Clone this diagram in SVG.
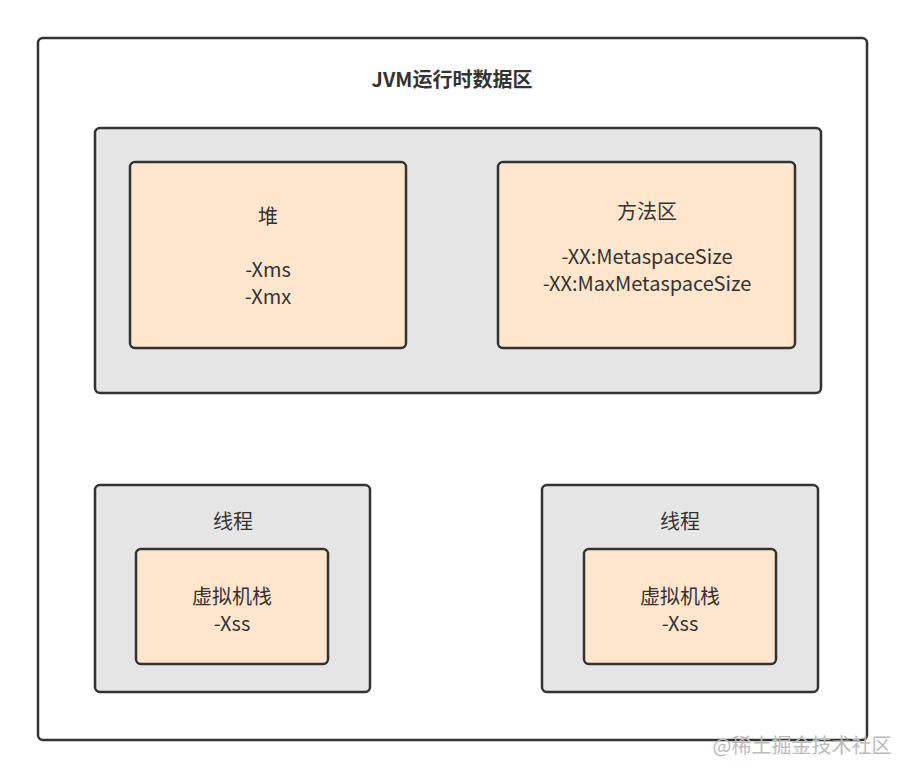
<svg xmlns="http://www.w3.org/2000/svg" width="904" height="778" viewBox="0 0 904 778">
<style>
.b{stroke:#333;stroke-width:2.5}
.g{fill:#e6e6e6}
.o{fill:#ffe6cc}
text{font-family:"Noto Sans CJK SC","Noto Sans",sans-serif;font-size:20px;fill:#333;text-anchor:middle}
</style>
<rect width="904" height="778" fill="#fff"/>
<g id="outer"><rect class="b" x="38" y="38" width="829" height="702" rx="5" fill="#fff"/>
<text x="452" y="87" font-weight="bold" font-size="19">JVM运行时数据区</text></g>
<g id="shared"><rect class="b g" x="95" y="128" width="726" height="265" rx="5"/></g>
<g id="heap"><rect class="b o" x="130" y="162" width="276" height="186" rx="5"/>
<text x="268" y="224">堆</text><text x="268" y="277">-Xms</text><text x="268" y="304">-Xmx</text></g>
<g id="method"><rect class="b o" x="498" y="162" width="297" height="186" rx="5"/>
<text x="647" y="219">方法区</text><text x="647" y="264">-XX:MetaspaceSize</text><text x="647" y="291">-XX:MaxMetaspaceSize</text></g>
<g id="thread1"><rect class="b g" x="95" y="485" width="275" height="207" rx="5"/>
<text x="233" y="529">线程</text></g>
<g id="stack1"><rect class="b o" x="136" y="549" width="192" height="115" rx="5"/>
<text x="232" y="604">虚拟机栈</text><text x="232" y="631">-Xss</text></g>
<g id="thread2"><rect class="b g" x="542" y="485" width="276" height="207" rx="5"/>
<text x="680" y="529">线程</text></g>
<g id="stack2"><rect class="b o" x="584" y="549" width="192" height="115" rx="5"/>
<text x="680" y="604">虚拟机栈</text><text x="680" y="631">-Xss</text></g>
<g id="connectors"></g>
<text x="802" y="753" font-size="16" fill="#bbb" style="fill:#bbb">@稀土掘金技术社区</text>
</svg>
